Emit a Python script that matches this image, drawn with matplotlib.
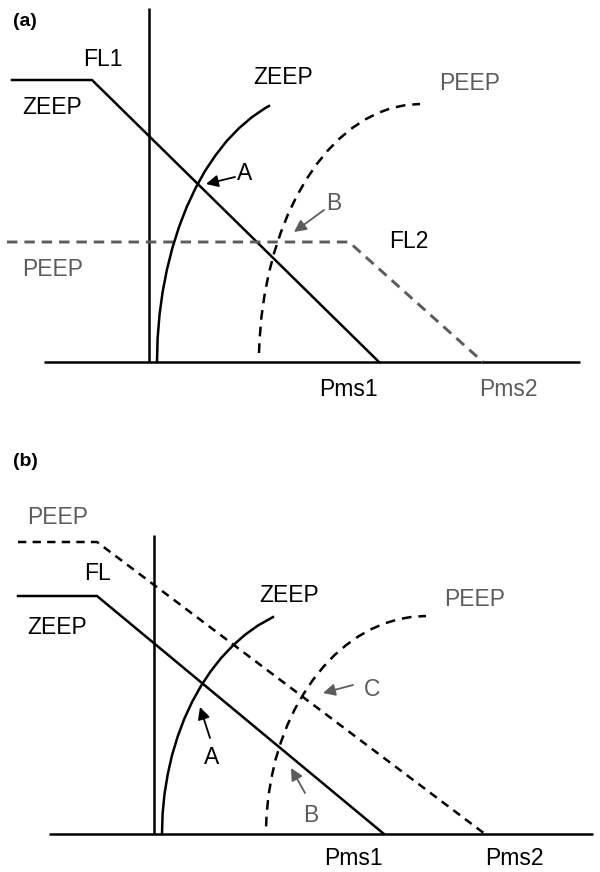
import matplotlib
matplotlib.use("Agg")
import matplotlib.pyplot as plt

plt.rcParams['font.family'] = ['Liberation Sans', 'DejaVu Sans']
plt.rcParams['lines.scale_dashes'] = False

GRAY = '#5c5c5c'

# ---------------- data: panel (a) ----------------
a_fl1_x = [-137, -57, 230]
a_fl1_y = [282, 282, 0]
a_fl2_x = [-142, 200, 334]
a_fl2_y = [120, 120, 0]
a_zeep_x = [8, 8.6, 10.5, 13.6, 17.9, 23.4, 30, 37.7, 46.4, 56, 66.6, 77.9, 90, 102.7, 115.9, 119.9]
a_zeep_y = [0, 23.5, 47, 70, 92.3, 114.1, 135, 155, 173.6, 191, 206.8, 221.2, 233.8, 244.7, 253.7, 256]
a_peep_x = [110, 110.6, 112.4, 115.5, 119.7, 125.1, 131.6, 139.1, 147.7, 157.2, 167.5, 178.6,
            190.5, 203, 215.9, 229.3, 243, 257, 271]
a_peep_y = [9, 22.5, 44.8, 66.8, 88.2, 109, 129, 148, 165.8, 182.4, 197.6, 211.3,
            223.4, 233.8, 242.4, 249.2, 254.1, 257, 258]
a_vaxis_top = 354
a_haxis = [-105, 431]

# ---------------- data: panel (b) ----------------
b_fl_zeep_x = [-136, -57, 230]
b_fl_zeep_y = [238, 238, 0]
b_fl_peep_x = [-136, -57, 331]
b_fl_peep_y = [292, 292, 0]
b_zeep_x = [8, 8.6, 10.5, 13.7, 18.0, 23.6, 30.2, 38.0, 46.8, 56.6, 67.3, 78.8, 91, 103.8, 118.9]
b_zeep_y = [0, 20.1, 39.9, 59.5, 78.7, 97.2, 115, 131.9, 147.8, 162.6, 176.2, 188.4, 199.2, 208.4, 216.9]
b_peep_x = [112.1, 112.6, 114.4, 117.5, 121.6, 127.0, 133.4, 140.9, 149.6, 158.9, 169.2, 180.2,
            192, 204.4, 217.3, 230.6, 244.2, 258.1, 272]
b_peep_y = [7.6, 19.0, 37.9, 56.4, 74.6, 92.1, 109, 125, 140.1, 154.1, 167, 178.6,
            188.8, 197.6, 204.9, 210.6, 214.7, 217.2, 218]
b_vaxis_top = 299
b_haxis = [-105, 439]

# ---------------- figure ----------------
W, H = 600, 872
fig = plt.figure(figsize=(W / 100, H / 100), dpi=100)


def make_axes(origin_px, top_px, bottom_px):
    ox, oy = origin_px
    ax = fig.add_axes([0, 1 - bottom_px / H, 1, (bottom_px - top_px) / H])
    ax.set_xlim(-ox, W - ox)
    ax.set_ylim(oy - bottom_px, oy - top_px)
    ax.axis('off')
    return ax


LW = 1.8
FS = 16.5


def label(ax, x, y, s, color='black', fs=FS):
    ax.text(x, y, s, ha='center', va='center', fontsize=fs, color=color)


def arrow(ax, tail, tip, color):
    ax.annotate('', xy=tip, xytext=tail,
                arrowprops=dict(arrowstyle='-|>,head_length=0.6,head_width=0.3',
                                color=color, lw=1.3, mutation_scale=12,
                                shrinkA=0, shrinkB=0))


# ----- panel (a) -----
ax = make_axes((149, 362), 0, 420)
ax.plot([0, 0], [0, a_vaxis_top], color='black', lw=LW, solid_capstyle='butt')
ax.plot(a_haxis, [0, 0], color='black', lw=LW, solid_capstyle='butt')
ax.plot(a_fl1_x, a_fl1_y, color='black', lw=LW)
ax.plot(a_fl2_x, a_fl2_y, color=GRAY, lw=LW + 0.3, linestyle=(0, (7.5, 5)))
ax.plot(a_zeep_x, a_zeep_y, color='black', lw=LW)
ax.plot(a_peep_x, a_peep_y, color='black', lw=LW, linestyle=(0, (7, 5)))
label(ax, -46, 302, 'FL1')
label(ax, -97, 254, 'ZEEP')
label(ax, 134, 285, 'ZEEP')
label(ax, 321, 278, 'PEEP', GRAY)
label(ax, 96, 188, 'A')
label(ax, 185, 158, 'B', GRAY)
label(ax, 260, 120, 'FL2')
label(ax, -96, 92, 'PEEP', GRAY)
label(ax, 199, -27, 'Pms1')
label(ax, 359, -27, 'Pms2', GRAY)
arrow(ax, (86, 185), (57, 178), 'black')
arrow(ax, (175, 152), (145, 130), GRAY)

# ----- panel (b) -----
bx = make_axes((154, 834), 430, 872)
bx.plot([0, 0], [0, b_vaxis_top], color='black', lw=LW, solid_capstyle='butt')
bx.plot(b_haxis, [0, 0], color='black', lw=LW, solid_capstyle='butt')
bx.plot(b_fl_zeep_x, b_fl_zeep_y, color='black', lw=LW)
bx.plot(b_fl_peep_x, b_fl_peep_y, color='black', lw=LW, linestyle=(0, (6, 4.5)))
bx.plot(b_zeep_x, b_zeep_y, color='black', lw=LW)
bx.plot(b_peep_x, b_peep_y, color='black', lw=LW, linestyle=(0, (7, 5)))
label(bx, -96, 316, 'PEEP', GRAY)
label(bx, -57, 261, 'FL')
label(bx, -97, 207, 'ZEEP')
label(bx, 135, 239, 'ZEEP')
label(bx, 321, 235, 'PEEP', GRAY)
label(bx, 58, 77, 'A')
label(bx, 157, 19, 'B', GRAY)
label(bx, 218, 144, 'C', GRAY)
label(bx, 199, -24, 'Pms1')
label(bx, 360, -24, 'Pms2')
arrow(bx, (56, 96), (46, 127), 'black')
arrow(bx, (151, 41), (137, 66), GRAY)
arrow(bx, (199, 149), (169, 141), GRAY)

# panel labels
fig.text(13 / W, 1 - 22 / H, '(a)', fontsize=14, fontweight='bold', ha='left', va='center')
fig.text(13 / W, 1 - 461 / H, '(b)', fontsize=14, fontweight='bold', ha='left', va='center')

fig.savefig('out.png', dpi=100, facecolor='white')
